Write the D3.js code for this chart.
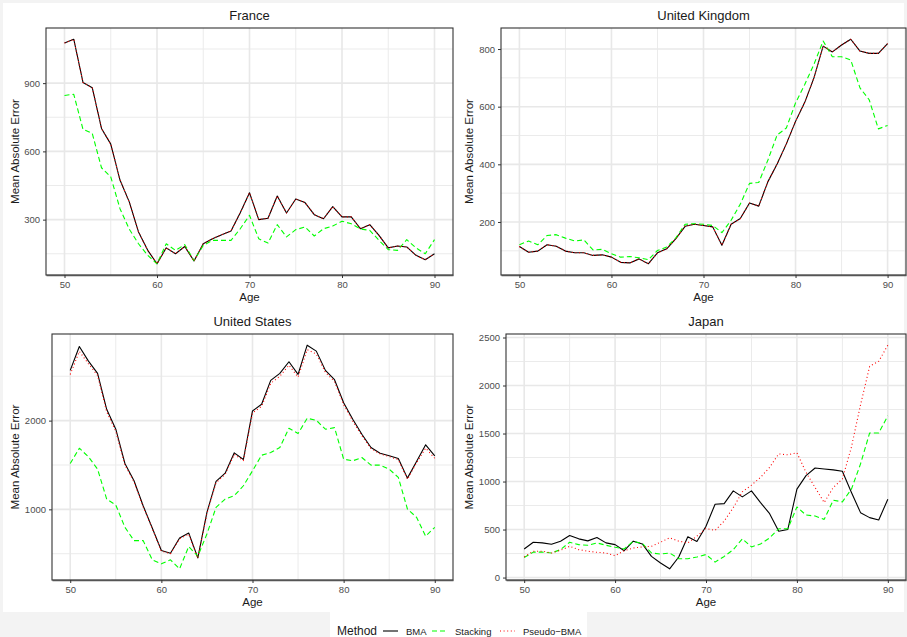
<!DOCTYPE html>
<html><head><meta charset="utf-8">
<script src="https://cdn.jsdelivr.net/npm/d3@7"></script>
<style>
html,body{margin:0;padding:0;background:#f3f3f3;}
svg{display:block;font-family:"Liberation Sans",Arial,sans-serif;}
</style></head>
<body><svg id="chart" width="907" height="637"></svg>
<script>
const ages = d3.range(50, 91);
const methods = ["BMA", "Stacking", "Pseudo-BMA"];
const countries = ["France", "United Kingdom", "United States", "Japan"];
const xTicks = [50, 60, 70, 80, 90];

const franceBMA = [1076,1093,903,880,701,632,474,378,246,165,106,176,150,182,118,194,216,234,250,330,418,300,306,404,329,391,375,322,304,357,312,312,260,278,231,176,184,180,143,124,150];
const franceStacking = [846,851,697,679,528,488,348,258,194,143,106,194,165,190,120,187,209,209,209,260,319,216,197,278,224,256,268,228,260,272,293,282,259,253,209,168,165,212,176,150,212];
const francePseudo = [1076,1093,903,880,701,632,474,378,246,165,106,176,150,182,118,194,216,234,250,330,418,300,306,404,329,391,375,322,304,357,312,312,260,278,231,176,184,180,143,124,150];

const ukBMA = [115,95,99,121,116,99,93,93,84,86,78,60,58,72,55,93,107,142,185,192,188,183,119,192,212,266,255,340,401,471,549,615,700,810,790,814,834,793,785,785,819];
const ukStacking = [121,134,121,153,156,144,134,138,103,105,90,78,80,76,69,101,113,145,192,194,192,188,163,206,262,334,337,415,502,526,613,677,747,828,773,773,762,665,624,523,535];
const ukPseudo = [115,95,99,121,116,99,93,93,84,86,78,60,58,72,55,93,107,142,185,192,188,183,119,192,212,266,255,340,401,471,549,615,700,810,790,814,834,793,785,785,819];

const usBMA = [2566,2835,2670,2532,2127,1903,1517,1322,1041,790,536,506,678,734,453,966,1315,1408,1637,1562,2109,2184,2453,2532,2663,2521,2850,2783,2566,2461,2202,2015,1846,1697,1633,1603,1573,1352,1539,1727,1603];
const usStacking = [1517,1689,1592,1453,1116,1049,798,648,648,431,386,431,330,581,472,723,1022,1116,1154,1266,1434,1610,1640,1697,1914,1854,2026,2004,1903,1921,1566,1547,1584,1498,1498,1453,1360,1004,910,697,798];
const usPseudo = [2520,2780,2640,2510,2100,1880,1500,1310,1030,785,530,500,670,720,450,955,1300,1395,1620,1550,2085,2160,2420,2500,2625,2490,2800,2750,2545,2440,2180,1995,1830,1685,1625,1595,1560,1340,1525,1690,1575];

const jpBMA = [298,368,361,347,379,438,403,382,417,361,343,280,379,350,221,151,91,214,424,375,535,764,770,903,840,903,781,665,483,501,921,1061,1141,1131,1121,1107,886,676,624,599,816];
const jpStacking = [209,265,265,256,291,368,343,336,361,336,315,298,379,354,256,245,256,196,196,214,240,161,220,291,403,319,350,413,508,508,735,651,641,606,806,788,921,1184,1506,1506,1684];
const jpPseudo = [215,274,274,256,284,326,291,274,263,256,228,280,308,319,326,368,414,379,361,431,511,491,588,728,893,963,1043,1148,1288,1278,1299,1096,938,781,938,1026,1360,1800,2200,2252,2420];

const yTicksFrance = [300, 600, 900];
const yTicksUK = [200, 400, 600, 800];
const yTicksUS = [1000, 2000];
const yTicksJapan = [0, 500, 1000, 1500, 2000, 2500];

const panels = [
  {name: countries[0], series: [franceBMA, franceStacking, francePseudo], ticks: yTicksFrance, box: [46, 453, 28, 275]},
  {name: countries[1], series: [ukBMA, ukStacking, ukPseudo], ticks: yTicksUK, box: [501, 906, 28, 275]},
  {name: countries[2], series: [usBMA, usStacking, usPseudo], ticks: yTicksUS, box: [52, 453, 334, 580]},
  {name: countries[3], series: [jpBMA, jpStacking, jpPseudo], ticks: yTicksJapan, box: [506, 906, 334, 580]}
];

const styles = {
  "BMA": {color: "#000000", dash: null, width: 1.1},
  "Stacking": {color: "#00ff00", dash: "5,3", width: 1.1},
  "Pseudo-BMA": {color: "#ff0000", dash: "1,2.6", width: 1.1}
};

const svg = d3.select("#chart");
svg.append("rect").attr("x", 3).attr("y", 3).attr("width", 901).attr("height", 609).attr("fill", "#ffffff");

panels.forEach(p => {
  const [L, R, T, B] = p.box;
  const all = p.series.flat();
  const ext = d3.extent(all);
  const pad = (ext[1] - ext[0]) * 0.05;
  const x = d3.scaleLinear().domain([48, 92]).range([L, R]);
  const y = d3.scaleLinear().domain([ext[0] - pad, ext[1] + pad]).range([B, T]);
  const g = svg.append("g");

  const step = p.ticks[1] - p.ticks[0];
  const minorY = d3.range(p.ticks[0] - step / 2, ext[1] + pad, step).filter(v => v > ext[0] - pad && v < ext[1] + pad);
  const minorX = [55, 65, 75, 85];
  g.selectAll(".mny").data(minorY).join("line")
    .attr("x1", L).attr("x2", R).attr("y1", d => y(d)).attr("y2", d => y(d))
    .attr("stroke", "#ebebeb").attr("stroke-width", 1);
  g.selectAll(".mnx").data(minorX).join("line")
    .attr("x1", d => x(d)).attr("x2", d => x(d)).attr("y1", T).attr("y2", B)
    .attr("stroke", "#ebebeb").attr("stroke-width", 1);
  g.selectAll(".mjy").data(p.ticks).join("line")
    .attr("x1", L).attr("x2", R).attr("y1", d => y(d)).attr("y2", d => y(d))
    .attr("stroke", "#e8e8e8").attr("stroke-width", 1.6);
  g.selectAll(".mjx").data(xTicks).join("line")
    .attr("x1", d => x(d)).attr("x2", d => x(d)).attr("y1", T).attr("y2", B)
    .attr("stroke", "#e8e8e8").attr("stroke-width", 1.6);

  methods.forEach((m, i) => {
    const st = styles[m];
    const line = d3.line().x((d, j) => x(ages[j])).y(d => y(d));
    g.append("path").datum(p.series[i])
      .attr("d", line).attr("fill", "none")
      .attr("stroke", st.color).attr("stroke-width", st.width)
      .attr("stroke-dasharray", st.dash)
      .attr("stroke-linejoin", "round");
  });

  g.append("rect").attr("x", L).attr("y", T).attr("width", R - L).attr("height", B - T)
    .attr("fill", "none").attr("stroke", "#333333").attr("stroke-width", 1.1);

  const xAxis = d3.axisBottom(x).tickValues(xTicks).tickSize(3).tickSizeOuter(0).tickPadding(3).tickFormat(d3.format("d"));
  const gx = g.append("g").attr("transform", `translate(0,${B})`).call(xAxis);
  gx.select(".domain").attr("stroke", "#555").attr("stroke-width", 1.6);
  gx.selectAll(".tick line").attr("stroke", "#333");
  gx.selectAll("text").attr("fill", "#4d4d4d").attr("font-size", 9.5).attr("font-family", "Liberation Sans, Arial, sans-serif");

  const yAxis = d3.axisLeft(y).tickValues(p.ticks).tickSize(3).tickSizeOuter(0).tickPadding(3).tickFormat(d3.format("d"));
  const gy = g.append("g").attr("transform", `translate(${L},0)`).call(yAxis);
  gy.select(".domain").remove();
  gy.selectAll(".tick line").attr("stroke", "#333");
  gy.selectAll("text").attr("fill", "#4d4d4d").attr("font-size", 9.5).attr("font-family", "Liberation Sans, Arial, sans-serif");

  g.append("text").attr("x", (L + R) / 2).attr("y", T - 8)
    .attr("text-anchor", "middle").attr("font-size", 13).attr("fill", "#1a1a1a").text(p.name);
  g.append("text").attr("x", (L + R) / 2).attr("y", B + 26)
    .attr("text-anchor", "middle").attr("font-size", 11.5).attr("fill", "#1a1a1a").text("Age");
  const yt = (p.box[0] < 100 ? 15 : 469);
  g.append("text").attr("transform", `translate(${yt + 4},${(T + B) / 2}) rotate(-90)`)
    .attr("text-anchor", "middle").attr("font-size", 11.5).attr("fill", "#1a1a1a").text("Mean Absolute Error");
});

const leg = svg.append("g");
leg.append("rect").attr("x", 330).attr("y", 612).attr("width", 257).attr("height", 25).attr("fill", "#ffffff");
leg.append("text").attr("x", 337).attr("y", 635).attr("font-size", 12).attr("fill", "#1a1a1a").text("Method");
const legPos = [{x1: 383, tx: 406}, {x1: 432, tx: 455}, {x1: 500, tx: 523}];
const legLabels = ["BMA", "Stacking", "Pseudo\u2212BMA"];
methods.forEach((m, i) => {
  const st = styles[m];
  leg.append("line").attr("x1", legPos[i].x1).attr("x2", legPos[i].x1 + 15)
    .attr("y1", 631).attr("y2", 631)
    .attr("stroke", st.color).attr("stroke-width", st.width).attr("stroke-dasharray", st.dash);
  leg.append("text").attr("x", legPos[i].tx).attr("y", 634.5).attr("font-size", 9.5)
    .attr("fill", "#1a1a1a").text(legLabels[i]);
});
</script></body></html>
